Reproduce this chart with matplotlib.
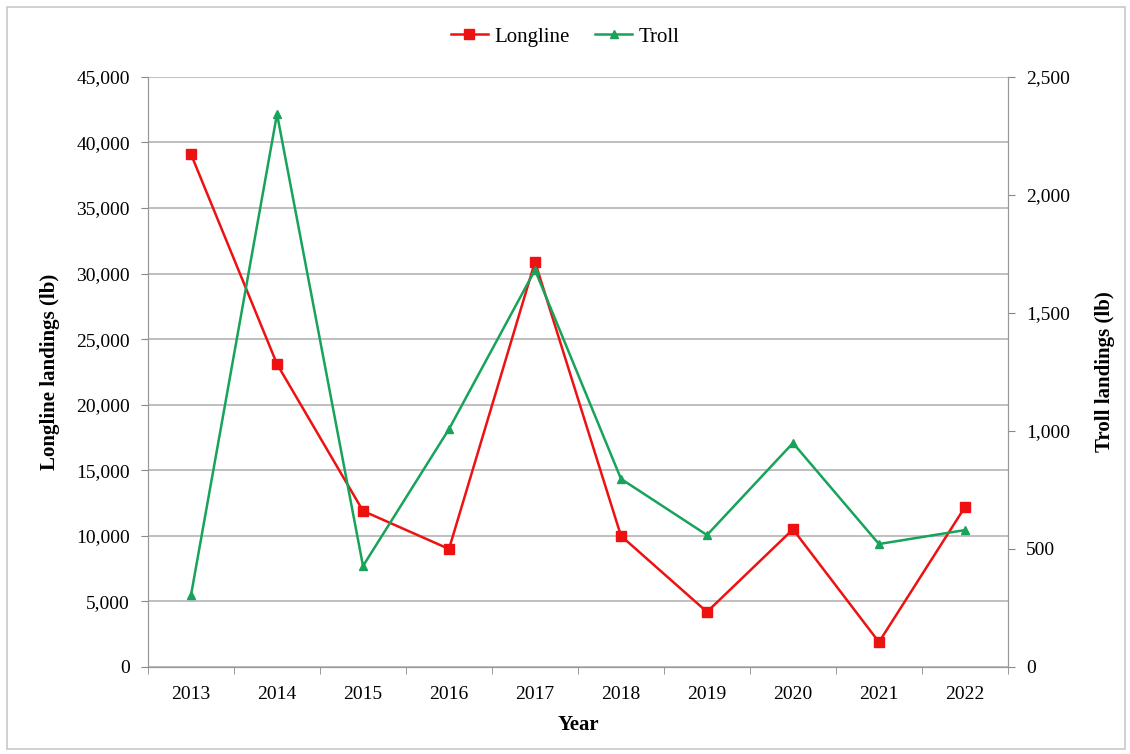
import matplotlib
matplotlib.use('Agg')
import matplotlib.pyplot as plt
import numpy as np
from matplotlib.patches import Rectangle
from matplotlib.ticker import FuncFormatter, MultipleLocator

years = ['2013', '2014', '2015', '2016', '2017', '2018', '2019', '2020', '2021', '2022']
longline = [39100, 23100, 11900, 9000, 30900, 10000, 4200, 10500, 1900, 12200]
troll = [305, 2343, 428, 1008, 1682, 797, 559, 949, 521, 580]

plt.rcParams['font.family'] = ['Liberation Serif', 'DejaVu Serif']

red = '#ee1111'
green = '#17a35a'

fig = plt.figure(figsize=(11.3, 7.54), dpi=100)
fig.patches.append(Rectangle((0.006, 0.006), 0.99, 0.985, transform=fig.transFigure,
                             fill=False, edgecolor='#c8c8c8', linewidth=1.2))
ax = fig.add_axes([0.131, 0.1154, 0.761, 0.7826])
ax2 = ax.twinx()

x = np.arange(len(years))
l1, = ax.plot(x, longline, color=red, marker='s', markersize=7, linewidth=1.8, label='Longline')
l2, = ax2.plot(x, troll, color=green, marker='^', markersize=6, linewidth=1.8, label='Troll')

fmt = FuncFormatter(lambda v, p: f'{int(v):,}')
ax.set_ylim(0, 45000)
ax.yaxis.set_major_locator(MultipleLocator(5000))
ax.yaxis.set_major_formatter(fmt)
ax2.set_ylim(0, 2500)
ax2.yaxis.set_major_locator(MultipleLocator(500))
ax2.yaxis.set_major_formatter(fmt)

ax.set_xlim(-0.5, len(years) - 0.5)
ax.set_xticks(x)
ax.set_xticklabels(years)
ax.set_xticks(np.arange(-0.5, len(years)), minor=True)
ax.tick_params(axis='x', which='major', length=0, pad=14, labelsize=14)
ax.tick_params(axis='x', which='minor', length=5, color='#888888')
ax.tick_params(axis='y', length=5, color='#888888', labelsize=14, pad=8)
ax2.tick_params(axis='y', length=5, color='#888888', labelsize=14, pad=8)

ax.grid(axis='y', color='#b4b4b4', linewidth=1.2)
ax.set_axisbelow(True)
for a in (ax, ax2):
    a.spines['top'].set_visible(False)
    for s in ('left', 'right', 'bottom'):
        a.spines[s].set_color('#999999')

ax.set_ylabel('Longline landings (lb)', fontsize=15, fontweight='bold', labelpad=12)
ax2.set_ylabel('Troll landings (lb)', fontsize=15, fontweight='bold', rotation=90, labelpad=18)
ax.set_xlabel('Year', fontsize=15, fontweight='bold', labelpad=8)

fig.legend(handles=[l1, l2], loc='center', bbox_to_anchor=(0.5, 0.951), ncol=2,
           frameon=False, fontsize=15, handlelength=1.8, columnspacing=1.2, handletextpad=0.3)

fig.savefig('out.png', dpi=100)
